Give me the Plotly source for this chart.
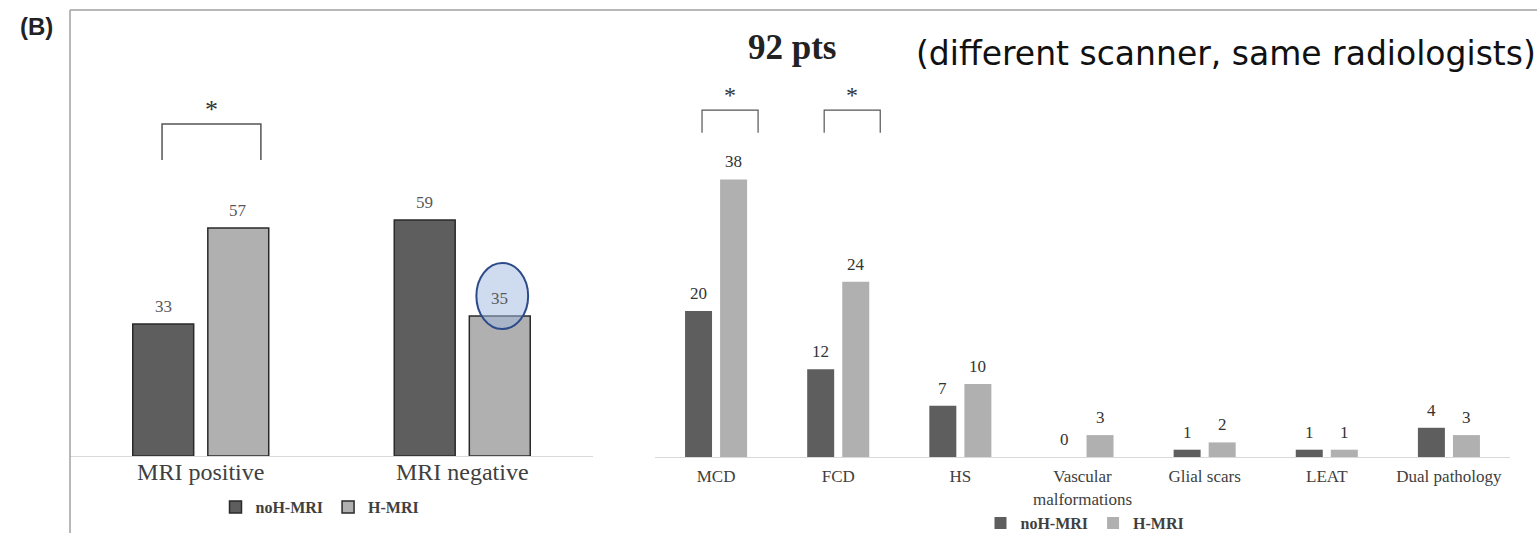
import plotly.graph_objects as go

# ---------------- data ----------------
left_categories = ["MRI positive", "MRI negative"]
left_noh = [33, 59]
left_h = [57, 35]

right_categories = ["MCD", "FCD", "HS", "Vascular<br>malformations", "Glial scars", "LEAT", "Dual pathology"]
right_noh = [20, 12, 7, 0, 1, 1, 4]
right_h = [38, 24, 10, 3, 2, 1, 3]

series_names = ["noH-MRI", "H-MRI"]
dark = "#5e5e5e"
light = "#b0b0b0"
serif = "Liberation Serif, Times New Roman, serif"

W, H = 1537, 533

fig = go.Figure()

# layout geometry (pixels -> paper)
def px_x(p):
    return p / W

def px_y(p):
    return (H - p) / H

left_dom_x = [px_x(70), px_x(593)]
right_dom_x = [px_x(655), px_x(1510)]
left_dom_y = [px_y(456), px_y(10)]
right_dom_y = [px_y(457), px_y(10)]

# bar geometry (category units)
L_W, L_OFF = 0.233, [-0.26, 0.027]
R_W, R_OFF = 0.221, [-0.254, 0.033]

# ---------------- left panel ----------------
for i, (vals, col) in enumerate([(left_noh, dark), (left_h, light)]):
    fig.add_trace(go.Bar(
        x=left_categories, y=vals, name=series_names[i],
        width=L_W, offset=L_OFF[i],
        marker=dict(color=col, line=dict(color="#2a2a2a", width=1.5)),
        xaxis="x", yaxis="y", legend="legend", hoverinfo="skip",
    ))
    for k, v in enumerate(vals):
        fig.add_annotation(
            x=k + L_OFF[i] + L_W / 2, y=v, xref="x", yref="y", xanchor="center",
            text=str(v), showarrow=False, yanchor="bottom", yshift=6,
            font=dict(family=serif, size=17, color="#595959"),
        )

# ---------------- right panel ----------------
for i, (vals, col) in enumerate([(right_noh, dark), (right_h, light)]):
    fig.add_trace(go.Bar(
        x=right_categories, y=vals, name=series_names[i],
        width=R_W, offset=R_OFF[i],
        marker=dict(color=col, line=dict(width=0)),
        xaxis="x2", yaxis="y2", legend="legend2", hoverinfo="skip",
    ))
    for k, v in enumerate(vals):
        fig.add_annotation(
            x=k + R_OFF[i] + R_W / 2, y=v, xref="x2", yref="y2", xanchor="center",
            text=str(v), showarrow=False, yanchor="bottom", yshift=6,
            font=dict(family=serif, size=17, color="#333333"),
        )

# ---------------- significance brackets ----------------
bracket_col = "#555555"
# left: MRI positive
fig.add_shape(type="path", xref="x", yref="y",
              path="M -0.148 74 L -0.148 83 L 0.23 83 L 0.23 74",
              line=dict(color=bracket_col, width=1.5))
fig.add_annotation(x=0.04, y=83, xref="x", yref="y", text="*", showarrow=False, xanchor="center",
                   yanchor="bottom", yshift=-2, font=dict(family=serif, size=26, color="#333"))
# right: MCD and FCD
for c in [0, 1]:
    fig.add_shape(type="path", xref="x2", yref="y2",
                  path=f"M {c-0.115} 44.4 L {c-0.115} 47.5 L {c+0.344} 47.5 L {c+0.344} 44.4",
                  line=dict(color=bracket_col, width=1.2))
    fig.add_annotation(x=c + 0.115, y=47.5, xref="x2", yref="y2", text="*", showarrow=False,
                       xanchor="center", yanchor="bottom", yshift=0,
                       font=dict(family=serif, size=24, color="#333"))

# highlight ellipse around the 35 label
fig.add_shape(type="circle", xref="x", yref="y",
              x0=1.054, x1=1.252, y0=31.75, y1=48.25,
              line=dict(color="#2d4a8a", width=2),
              fillcolor="rgba(160,185,225,0.5)", layer="above")

# ---------------- frame lines ----------------
frame_col = "#a0a0a0"
fig.add_shape(type="line", xref="paper", yref="paper",
              x0=px_x(70), x1=1, y0=px_y(10), y1=px_y(10), line=dict(color=frame_col, width=1.5))
fig.add_shape(type="line", xref="paper", yref="paper",
              x0=px_x(70), x1=px_x(70), y0=px_y(10), y1=0, line=dict(color=frame_col, width=1.5))

# ---------------- texts ----------------
fig.add_annotation(x=px_x(36), y=px_y(27), xref="paper", yref="paper", text="<b>(B)</b>",
                   xanchor="center", yanchor="middle",
                   showarrow=False, font=dict(family="Liberation Sans, Arial", size=24, color="#222"))
fig.add_annotation(x=px_x(792), y=px_y(47), xref="paper", yref="paper", text="<b>92 pts</b>",
                   xanchor="center", yanchor="middle",
                   showarrow=False, font=dict(family=serif, size=35, color="#222"))
fig.add_annotation(x=px_x(1226), y=px_y(54), xref="paper", yref="paper",
                   text="(different scanner, same radiologists)",
                   xanchor="center", yanchor="middle",
                   showarrow=False, font=dict(family="Comic Sans MS, DejaVu Sans", size=33, color="#111"))

# ---------------- axes ----------------
xaxis_common = dict(showline=True, linecolor="#d9d9d9", linewidth=1, ticks="",
                    showgrid=False, zeroline=False, fixedrange=True)
yaxis_common = dict(showgrid=False, zeroline=False, showticklabels=False, showline=False, fixedrange=True)

legend_font = dict(family=serif, size=16, color="#404040", weight="bold")

fig.update_layout(
    width=W, height=H,
    margin=dict(l=0, r=0, t=0, b=0, autoexpand=False),
    paper_bgcolor="white", plot_bgcolor="white",
    barmode="overlay",
    xaxis=dict(domain=left_dom_x, anchor="y", range=[-0.5, 1.5], ticklabelstandoff=-6,
               tickfont=dict(family=serif, size=24, color="#404040"), **xaxis_common),
    yaxis=dict(domain=left_dom_y, anchor="x", range=[0, 111.5], **yaxis_common),
    xaxis2=dict(domain=right_dom_x, anchor="y2", range=[-0.5, 6.5], ticklabelstandoff=4,
                tickfont=dict(family=serif, size=17, color="#404040"), **xaxis_common),
    yaxis2=dict(domain=right_dom_y, anchor="x2", range=[0, 61.2], **yaxis_common),
    legend=dict(orientation="h", x=px_x(320), xanchor="center", y=px_y(507), yanchor="middle",
                font=legend_font, itemwidth=30, bgcolor="rgba(0,0,0,0)"),
    legend2=dict(orientation="h", x=px_x(1085), xanchor="center", y=px_y(523), yanchor="middle",
                 font=legend_font, itemwidth=30, bgcolor="rgba(0,0,0,0)"),
    showlegend=True,
)

fig.write_html("out.html", config={"displayModeBar": False},
               post_script="document.body.style.margin='0px';document.body.style.overflow='hidden';")
